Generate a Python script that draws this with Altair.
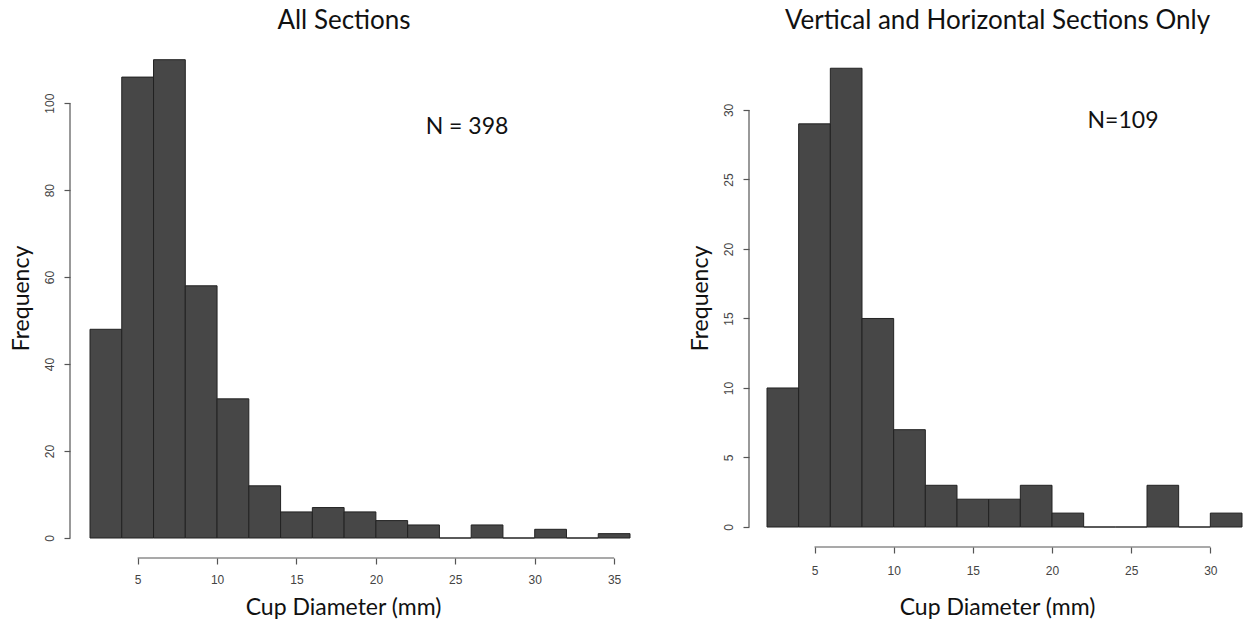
import altair as alt
import pandas as pd

# ---- data ----
left_bin_edges = [2, 4, 6, 8, 10, 12, 14, 16, 18, 20, 22, 24, 26, 28, 30, 32, 34, 36]
left_counts = [48, 106, 110, 58, 32, 12, 6, 7, 6, 4, 3, 0, 3, 0, 2, 0, 1]
left_x_ticks = [5, 10, 15, 20, 25, 30, 35]
left_y_ticks = [0, 20, 40, 60, 80, 100]

right_bin_edges = [2, 4, 6, 8, 10, 12, 14, 16, 18, 20, 22, 24, 26, 28, 30, 32]
right_counts = [10, 29, 33, 15, 7, 3, 2, 2, 3, 1, 0, 0, 3, 0, 1]
right_x_ticks = [5, 10, 15, 20, 25, 30]
right_y_ticks = [0, 5, 10, 15, 20, 25, 30]

titles = ["All Sections", "Vertical and Horizontal Sections Only"]
notes = ["N = 398", "N=109"]
x_title = "Cup Diameter (mm)"
y_title = "Frequency"

AXIS_COLOR = "#555555"


def panel(edges, counts, xticks, yticks, xdom, ydom, w, h, title, title_dx,
          note, note_x, note_y, yoff, xoff, xtitle_x, ytitle_y,
          xlabel_pad, xtitle_pad):
    df = pd.DataFrame({"start": edges[:-1], "end": edges[1:], "count": counts})
    xs = alt.Scale(domain=xdom, nice=False, zero=False)
    ys = alt.Scale(domain=ydom, nice=False)
    xaxis = alt.Axis(values=xticks, title=x_title, domain=False, offset=xoff,
                     tickSize=6, labelPadding=xlabel_pad, titlePadding=xtitle_pad,
                     labelFlush=False, titleX=xtitle_x, titleAlign="center")
    yaxis = alt.Axis(values=yticks, title=y_title, domain=False, offset=yoff,
                     tickSize=6, labelAngle=270, labelAlign="center",
                     labelBaseline="bottom", labelPadding=8, titlePadding=10,
                     titleY=ytitle_y, titleAlign="center")
    bars = alt.Chart(df).mark_bar(fill="#474747", stroke="#222222", strokeWidth=1).encode(
        x=alt.X("start:Q", scale=xs, axis=xaxis),
        x2="end:Q",
        y=alt.Y("count:Q", scale=ys, axis=yaxis),
        y2=alt.datum(0),
    )
    xl = pd.DataFrame({"start": [xticks[0]], "end": [xticks[-1]]})
    xline = alt.Chart(xl).mark_rule(color=AXIS_COLOR, strokeWidth=1.2).encode(
        x=alt.X("start:Q", scale=xs, axis=xaxis),
        x2="end:Q",
        y=alt.value(h + xoff),
    )
    yl = pd.DataFrame({"count": [yticks[0]], "top": [yticks[-1]]})
    yline = alt.Chart(yl).mark_rule(color=AXIS_COLOR, strokeWidth=1.2).encode(
        y=alt.Y("count:Q", scale=ys, axis=yaxis),
        y2="top:Q",
        x=alt.value(-yoff),
    )
    txt = alt.Chart(pd.DataFrame({"t": [note]})).mark_text(
        font="Lato", fontSize=23, color="#111111", align="center", baseline="middle"
    ).encode(x=alt.value(note_x), y=alt.value(note_y), text="t:N")
    return alt.layer(bars, xline, yline, txt).properties(
        width=w, height=h,
        title=alt.TitleParams(title, anchor="middle", frame="group", dx=title_dx,
                              offset=17, font="Lato", fontSize=26,
                              fontWeight="normal", color="#111111"),
    )


left = panel(left_bin_edges, left_counts, left_x_ticks, left_y_ticks,
             [2, 36], [0, 112], 540, 487, titles[0], -16,
             notes[0], 377, 76, 20, 20, 253, 247, 10, 11)
right = panel(right_bin_edges, right_counts, right_x_ticks, right_y_ticks,
              [2, 32], [0, 34.24], 475, 476, titles[1], -7,
              notes[1], 356, 70, 18, 20, 230, 247, 12, 20)

chart = alt.hconcat(left, right, spacing=58).properties(
    padding={"left": 2, "top": 0, "right": 0, "bottom": 0}
).configure_view(stroke=None).configure_axis(
    grid=False,
    labelFont="Liberation Sans", labelFontSize=12, labelColor="#444444",
    titleFont="Lato", titleFontSize=23, titleFontWeight="normal", titleColor="#111111",
    tickColor=AXIS_COLOR, tickWidth=1.2,
)

chart.save("out.html", embed_options={"renderer": "svg", "actions": False})
